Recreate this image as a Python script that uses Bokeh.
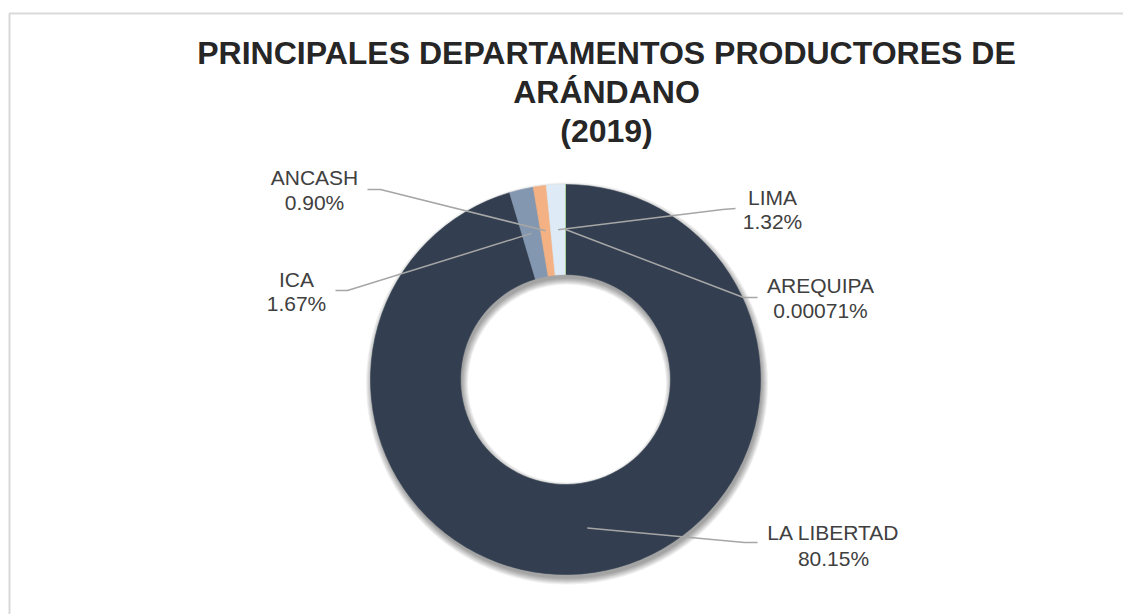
import numpy as np
from bokeh.plotting import figure
from bokeh.models import Range1d, ColumnDataSource
from bokeh.core.properties import value
from bokeh.embed import file_html
from bokeh.resources import INLINE

# ---------------- data ----------------
departments = ["LA LIBERTAD", "ICA", "ANCASH", "LIMA", "AREQUIPA"]
shares = [80.15, 1.67, 0.90, 1.32, 0.00071]
share_labels = ["80.15%", "1.67%", "0.90%", "1.32%", "0.00071%"]
colors = ["#333F50", "#8497B0", "#F4B183", "#DEEBF7", "#A9D18E"]
title_lines = ["PRINCIPALES DEPARTAMENTOS PRODUCTORES DE", "ARÁNDANO", "(2019)"]

# ---------------- layout (screen pixels) ----------------
W, H = 1123, 614
def Y(sy):
    return H - sy

CX, CY_S = 565, 379
R_OUT, R_IN = 195, 105
R_MID = (R_OUT + R_IN) / 2

label_cx = [833, 296, 314, 772, 820]
label_base1 = [532, 278.5, 176.5, 196.5, 284.5]
label_base2 = [558, 302.5, 201.5, 220.5, 309.5]
leader_outer = [(757, 542), (335, 290), (367, 189), (735, 208), (757, 297)]
leader_elbow = [(744, 542), (347, 290), (380, 189), (722, 209), (743, 297)]

p = figure(width=W, height=H, x_range=Range1d(0, W), y_range=Range1d(0, H),
           x_axis_type=None, y_axis_type=None,
           output_backend="svg", toolbar_location=None, min_border=0)
p.grid.visible = False
p.outline_line_color = None
p.background_fill_color = "white"
p.border_fill_color = "white"

# chart frame (only left/top visible in the window)
p.line([9, 9, 1140], [Y(640), Y(13), Y(13)], line_color="#D9D9D9", line_width=2)

# ---------------- donut ----------------
vals = np.array(shares, dtype=float)
frac = vals / vals.sum()
cw_end = np.cumsum(frac) * 360.0
cw_start = cw_end - frac * 360.0
start_angle = 90.0 - cw_end
end_angle = 90.0 - cw_start

# soft shadow
for s in range(7):
    p.annular_wedge(x=CX + 1.5, y=Y(CY_S + 4), inner_radius=R_IN - s, outer_radius=R_OUT + s,
                    start_angle=0, end_angle=360, start_angle_units="deg", end_angle_units="deg",
                    fill_color="black", fill_alpha=0.06, line_color=None)

src = ColumnDataSource(dict(dep=departments, start=start_angle, end=end_angle, color=colors))
p.annular_wedge(x=CX, y=Y(CY_S), inner_radius=R_IN, outer_radius=R_OUT,
                start_angle="start", end_angle="end", start_angle_units="deg", end_angle_units="deg",
                fill_color="color", line_color="color", line_width=0.6, source=src)

# ---------------- leader lines ----------------
mid = np.radians((cw_start + cw_end) / 2.0)
for i in range(len(departments)):
    ix = CX + R_MID * np.sin(mid[i])
    iy = Y(CY_S) + R_MID * np.cos(mid[i])
    xs = [leader_outer[i][0], leader_elbow[i][0], ix]
    ys = [Y(leader_outer[i][1]), Y(leader_elbow[i][1]), iy]
    p.line(xs, ys, line_color="#A6A6A6", line_width=1.5)

# ---------------- labels ----------------
FONT = value("Liberation Sans")
p.text(x=label_cx, y=[Y(v) for v in label_base1], text=departments, text_font=FONT,
       text_font_size="21px", text_color="#404040", text_align="center", text_baseline="alphabetic")
p.text(x=label_cx, y=[Y(v) for v in label_base2], text=share_labels, text_font=FONT,
       text_font_size="21px", text_color="#404040", text_align="center", text_baseline="alphabetic")

# ---------------- title ----------------
title_base = [52, 91, 130]
p.text(x=[606] * 3, y=[Y(v) for v in title_base], text=title_lines, text_font=FONT,
       text_font_style="bold", text_font_size="32px", text_color="#262626",
       text_align="center", text_baseline="alphabetic")

open("out.html", "w").write(file_html(p, INLINE))
